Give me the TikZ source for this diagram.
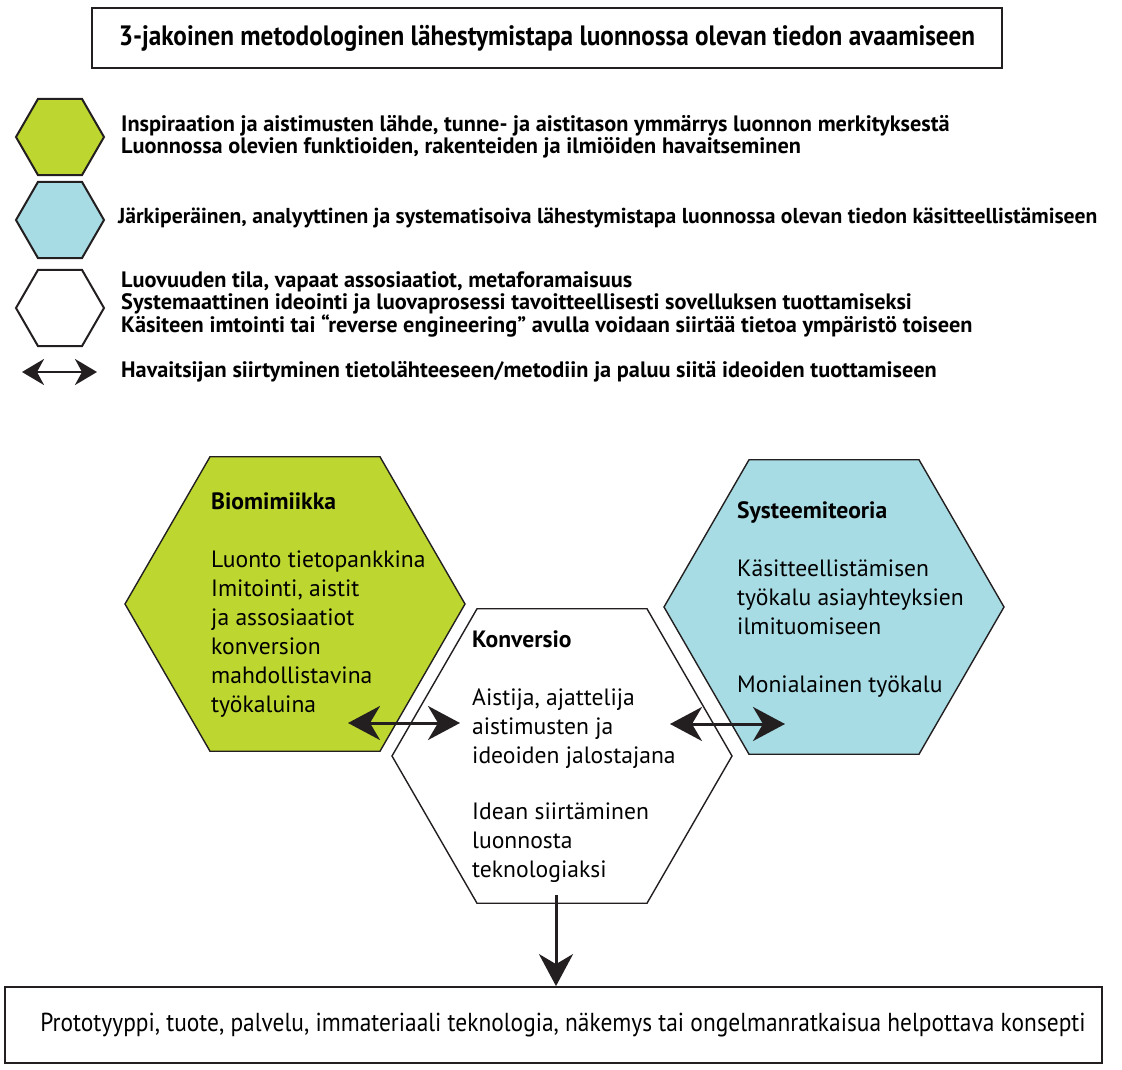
\documentclass[tikz,border=0pt]{standalone}
\usepackage{fontspec}
\setmainfont{PT Sans}
\newfontfamily\condfont[FakeStretch=0.9]{PT Sans}
\usetikzlibrary{shapes.geometric,arrows.meta}
\definecolor{biogreen}{RGB}{190,214,48}
\definecolor{sysblue}{RGB}{168,220,228}
\definecolor{edgeink}{RGB}{35,31,32}
\tikzset{
  hexa/.style={regular polygon, regular polygon sides=6, draw=edgeink, line width=1.4pt, inner sep=0pt},
  bighexa/.style={hexa, minimum size=340pt},
  keyhexa/.style={hexa, line width=2pt, minimum size=88pt},
  framebox/.style={draw=edgeink, line width=1.8pt, inner sep=0pt},
  keytext/.style={anchor=west, align=left, inner sep=0pt, font=\fontsize{22.3}{22.5}\selectfont\bfseries},
  hextext/.style={anchor=north west, align=left, inner sep=0pt, font=\fontsize{23.6}{29}\selectfont},
  twoway/.style={{Stealth[length=32pt,width=34pt,inset=10pt]}-{Stealth[length=32pt,width=34pt,inset=10pt]}, line width=3pt, draw=edgeink},
  oneway/.style={-{Stealth[length=32pt,width=34pt,inset=10pt]}, line width=3pt, draw=edgeink},
  keyway/.style={{Stealth[length=22pt,width=26pt,inset=7pt]}-{Stealth[length=22pt,width=26pt,inset=7pt]}, line width=2.8pt, draw=edgeink}
}
\begin{document}
\begin{tikzpicture}[x=1pt,y=-1pt]
  \useasboundingbox (0,0) rectangle (1122,1070);
  % otsikko
  \node[framebox, minimum width=910pt, minimum height=60pt,
        font=\condfont\fontsize{28}{32}\selectfont\bfseries] (title) at (547,38)
    {3-jakoinen metodologinen lähestymistapa luonnossa olevan tiedon avaamiseen};
  % selitteet
  \node[keyhexa, fill=biogreen] (key1) at (60,137) {};
  \node[keyhexa, fill=sysblue] (key2) at (60,220) {};
  \node[keyhexa, fill=white] (key3) at (60,308) {};
  \node[keytext] (keytext1) at (121,137)
    {Inspiraation ja aistimusten lähde, tunne- ja aistitason ymmärrys luonnon merkityksestä\\
     Luonnossa olevien funktioiden, rakenteiden ja ilmiöiden havaitseminen};
  \node[keytext, font=\fontsize{21.6}{22.5}\selectfont\bfseries] (keytext2) at (118,218)
    {Järkiperäinen, analyyttinen ja systematisoiva lähestymistapa luonnossa olevan tiedon käsitteellistämiseen};
  \node[keytext] (keytext3) at (121,304)
    {Luovuuden tila, vapaat assosiaatiot, metaforamaisuus\\
     Systemaattinen ideointi ja luovaprosessi tavoitteellisesti sovelluksen tuottamiseksi\\
     Käsiteen imtointi tai “reverse engineering” avulla voidaan siirtää tietoa ympäristö toiseen};
  \node[keytext] (keytext4) at (121,372)
    {Havaitsijan siirtyminen tietolähteeseen/metodiin ja paluu siitä ideoiden tuottamiseen};
  \coordinate (k1) at (22,372);
  \coordinate (k2) at (97,372);
  \draw[keyway] (k1) -- (k2);
  % kuusikulmiot
  \node[bighexa, fill=biogreen] (bio) at (295,604) {};
  \node[bighexa, fill=sysblue] (sys) at (834,607) {};
  \node[bighexa, fill=white] (kon) at (562,756) {};
  \node[hextext] (biotext) at (211,493)
    {\textbf{Biomimiikka}\\[29pt]
     Luonto tietopankkina\\ Imitointi, aistit\\ ja assosiaatiot\\
     konversion\\ mahdollistavina\\ työkaluina};
  \node[hextext] (systext) at (737,501)
    {\textbf{Systeemiteoria}\\[29pt]
     Käsitteellistämisen\\ työkalu asiayhteyksien\\ ilmituomiseen\\[29pt]
     Monialainen työkalu};
  \node[hextext] (kontext) at (472,631)
    {\textbf{Konversio}\\[29pt]
     Aistija, ajattelija\\ aistimusten ja\\ ideoiden jalostajana\\[27pt]
     Idean siirtäminen\\ luonnosta\\ teknologiaksi};
  % tulos
  \node[framebox, minimum width=1097pt, minimum height=76pt] (result) at (553.5,1025) {};
  \node[font=\condfont\fontsize{26}{30}\selectfont, inner sep=0pt] (resulttext) at (563,1025)
    {Prototyyppi, tuote, palvelu, immateriaali teknologia, näkemys tai ongelmanratkaisua helpottava konsepti};
  % nuolet
  \coordinate (l1) at (348,723);
  \coordinate (l2) at (460,723);
  \coordinate (r1) at (670,724);
  \coordinate (r2) at (785,724);
  \coordinate (down) at (556,895);
  \draw[twoway] (l1) -- (l2);
  \draw[twoway] (r1) -- (r2);
  \draw[oneway] (down) -- (down |- result.north);
\end{tikzpicture}
\end{document}
